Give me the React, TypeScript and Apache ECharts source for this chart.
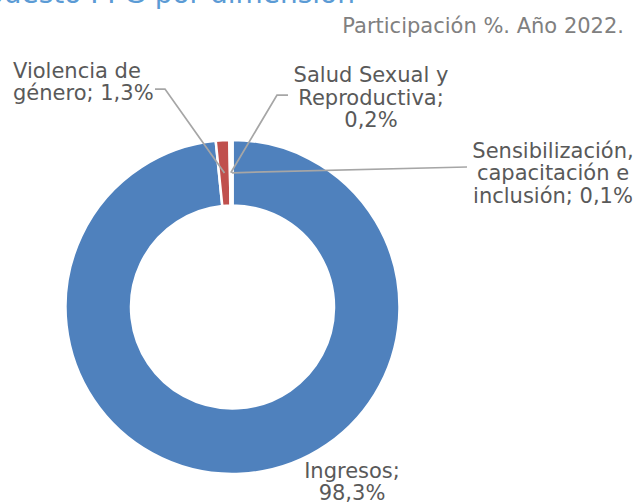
import React, { useEffect, useRef } from "react";
import * as echarts from "echarts";

const categories = [
  "Ingresos",
  "Violencia de género",
  "Salud Sexual y Reproductiva",
  "Sensibilización, capacitación e inclusión",
];
const shares = [98.3, 1.3, 0.2, 0.1];
const colors = ["#4F81BD", "#C0504D", "#9BBB59", "#8064A2"];
const titleText = "Presupuesto PPG por dimensión";
const subtitleText = "Participación %. Año 2022.";
// word counts after which each data label wraps to a new line
const labelBreaks = [[1], [2], [3, 4], [1, 3]];

const CX = 232.5;
const CY = 307;
const R_IN = 101.5;
const R_OUT = 167;
const FONT = "DejaVu Sans";

const labelPos: any[] = [
  { x: 352, y: 482, align: "center", guide: null },
  { x: 13, y: 82, align: "left", guide: [[155, 89], [165, 89]] },
  { x: 371, y: 97.5, align: "center", guide: [[288, 95], [277, 95]] },
  { x: 553, y: 173, align: "center", guide: [[467, 167]] },
];

const total = shares.reduce((a, b) => a + b, 0);
function centroid(i: number): number[] {
  let start = 0;
  for (let k = 0; k < i; k++) start += shares[k];
  const mid = ((start + shares[i] / 2) / total) * Math.PI * 2;
  const r = (R_IN + R_OUT) / 2;
  return [CX + r * Math.sin(mid), CY - r * Math.cos(mid)];
}
const fmt = (v: number) => v.toFixed(1).replace(".", ",");
function wrap(text: string, breaks: number[]) {
  const words = text.split(" ");
  let out = "";
  words.forEach((w, k) => {
    if (k > 0) out += breaks.includes(k) ? "\n" : " ";
    out += w;
  });
  return out;
}

export default function App() {
  const ref = useRef<HTMLDivElement>(null);
  useEffect(() => {
    if (!ref.current) return;
    const chart = echarts.init(ref.current, undefined, { renderer: "svg" });
    const leaders = labelPos
      .map((p, i) =>
        p.guide
          ? {
              type: "polyline",
              z: 100,
              silent: true,
              shape: { points: [...p.guide, centroid(i)] },
              style: { stroke: "#A6A6A6", lineWidth: 1.75, fill: "none" },
            }
          : null
      )
      .filter(Boolean);
    chart.setOption({
      animation: false,
      backgroundColor: "#ffffff",
      title: [
        {
          text: titleText,
          right: 278,
          top: -21,
          padding: 0,
          textStyle: { color: "#5B9BD5", fontSize: 28, lineHeight: 28, fontWeight: "normal", fontFamily: FONT },
        },
        {
          text: subtitleText,
          right: 9,
          top: 15,
          padding: 0,
          textStyle: { color: "#808080", fontSize: 21, lineHeight: 21, fontWeight: "normal", fontFamily: FONT },
        },
      ],
      graphic: leaders,
      series: [
        {
          type: "pie",
          center: [CX, CY],
          radius: [R_IN, R_OUT],
          startAngle: 90,
          clockwise: true,
          avoidLabelOverlap: false,
          itemStyle: { borderColor: "#ffffff", borderWidth: 2.5 },
          label: {
            show: true,
            color: "#595959",
            fontFamily: FONT,
            fontSize: 21,
            lineHeight: 22.5,
            formatter: (p: any) => wrap(`${p.name}; ${fmt(p.value)}%`, labelBreaks[p.dataIndex]),
          },
          labelLine: { show: false },
          labelLayout: (params: any) => {
            const p = labelPos[params.dataIndex];
            return { x: p.x, y: p.y, align: p.align, verticalAlign: "middle" };
          },
          data: categories.map((name, i) => ({
            name,
            value: shares[i],
            itemStyle: { color: colors[i] },
            label: { align: labelPos[i].align },
          })),
        },
      ],
    });
    return () => chart.dispose();
  }, []);
  return (
    <div
      ref={ref}
      style={{ position: "absolute", left: 0, top: 0, width: 633, height: 504, background: "#fff" }}
    />
  );
}
